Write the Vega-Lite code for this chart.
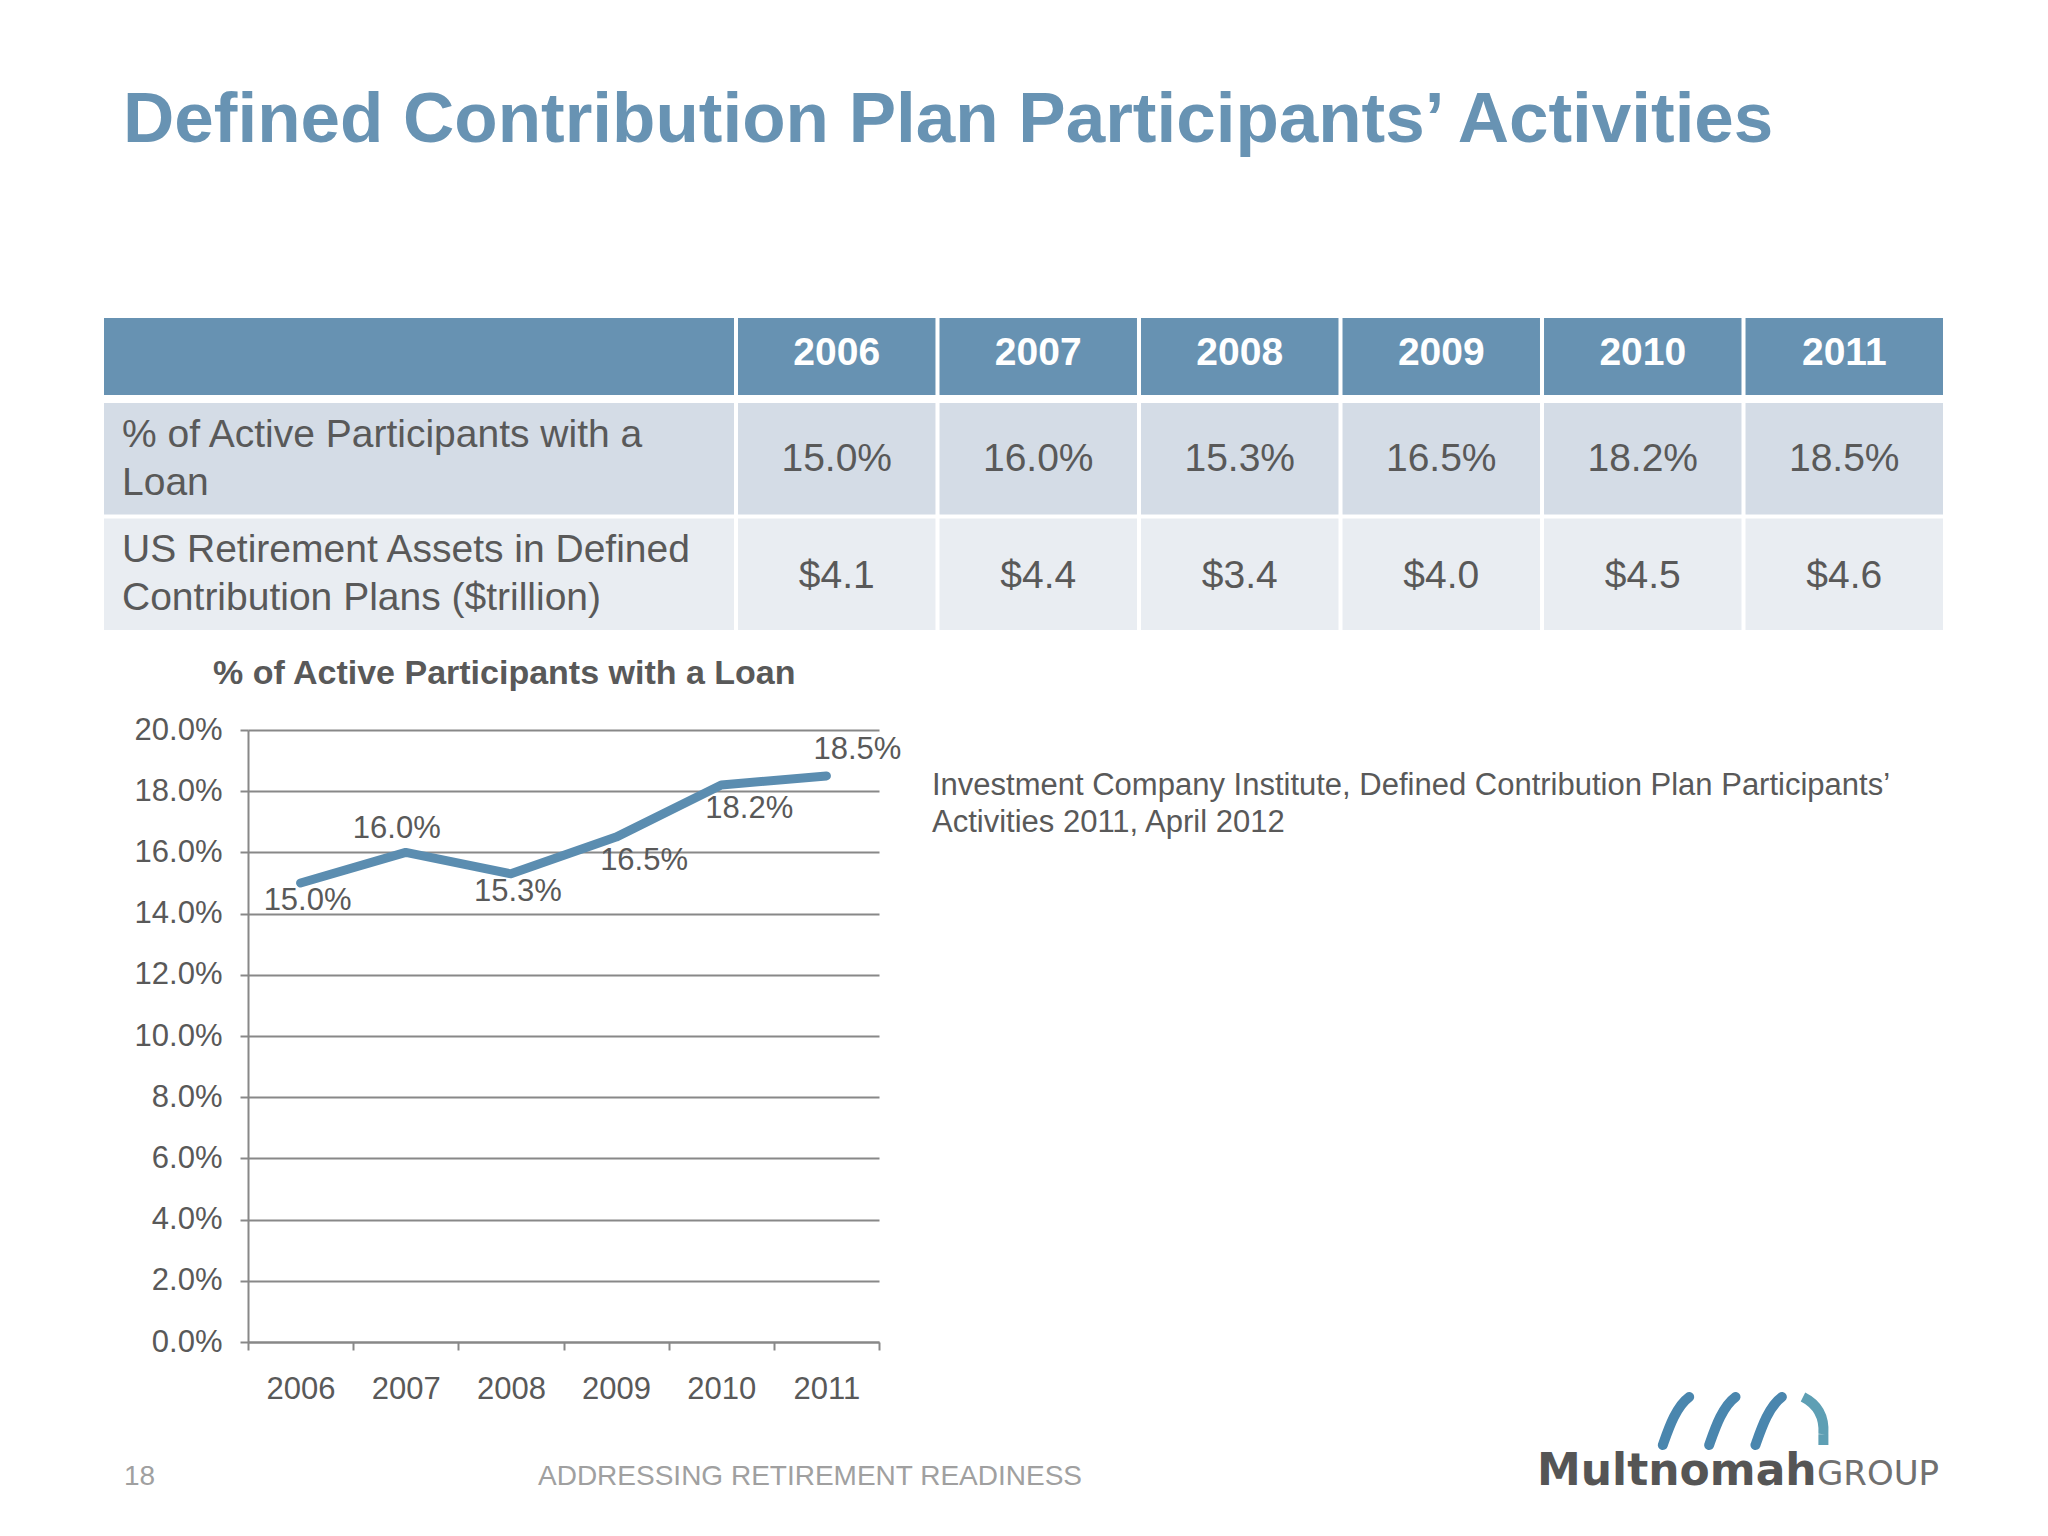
{
  "$schema": "https://vega.github.io/schema/vega-lite/v6.json",
  "background": "white",
  "padding": {"left": 104, "top": 85, "right": 104, "bottom": 41},
  "config": {"view": {"stroke": null}, "font": "Liberation Sans", "text": {"font": "Liberation Sans"}},
  "title": {
    "text": "Defined Contribution Plan Participants’ Activities",
    "anchor": "start", "frame": "group", "fontSize": 71, "fontWeight": "bold",
    "font": "Liberation Sans", "color": "#6893B3", "baseline": "alphabetic", "offset": 105, "dx": 19
  },
  "datasets": {
    "table": [
      {"year": 2006, "metric": "loan", "value": 0.150},
      {"year": 2007, "metric": "loan", "value": 0.160},
      {"year": 2008, "metric": "loan", "value": 0.153},
      {"year": 2009, "metric": "loan", "value": 0.165},
      {"year": 2010, "metric": "loan", "value": 0.182},
      {"year": 2011, "metric": "loan", "value": 0.185},
      {"year": 2006, "metric": "assets", "value": 4.1},
      {"year": 2007, "metric": "assets", "value": 4.4},
      {"year": 2008, "metric": "assets", "value": 3.4},
      {"year": 2009, "metric": "assets", "value": 4.0},
      {"year": 2010, "metric": "assets", "value": 4.5},
      {"year": 2011, "metric": "assets", "value": 4.6}
    ],
    "labels": [
      {"metric": "loan", "label": ["% of Active Participants with a", "Loan"]},
      {"metric": "assets", "label": ["US Retirement Assets in Defined", "Contribution Plans ($trillion)"]}
    ],
    "footer": [
      {"part": "page", "text": "18"},
      {"part": "tagline", "text": "ADDRESSING RETIREMENT READINESS"},
      {"part": "brand", "text": "Multnomah"},
      {"part": "group", "text": "GROUP"},
      {"part": "wave", "n": 1},
      {"part": "wave", "n": 2},
      {"part": "wave", "n": 3},
      {"part": "wave", "n": 4}
    ]
  },
  "columns": 1,
  "align": "none",
  "spacing": 26,
  "concat": [
    {
      "columns": 1,
      "align": "none",
      "spacing": 8,
      "concat": [
        {
          "spacing": 4,
          "hconcat": [
            {
              "width": 630, "height": 77,
              "data": {"values": [{"cell": "corner"}]},
              "mark": {"type": "rect", "color": "#6792B2"},
              "encoding": {}
            },
            {
              "width": 1205, "height": 77,
              "data": {"name": "table"},
              "transform": [{"filter": "datum.metric == 'loan'"}],
              "encoding": {
                "x": {"field": "year", "type": "ordinal", "axis": null, "scale": {"type": "band", "paddingInner": 0.02, "paddingOuter": 0}}
              },
              "layer": [
                {"mark": {"type": "rect", "color": "#6792B2"}},
                {"mark": {"type": "text", "color": "white", "fontSize": 39, "fontWeight": "bold", "baseline": "middle", "dy": -4},
                 "encoding": {"text": {"field": "year", "type": "ordinal"}}}
              ]
            }
          ]
        },
        {
          "spacing": 4,
          "hconcat": [
            {
              "width": 630, "height": 227,
              "data": {"name": "labels"},
              "encoding": {
                "y": {"field": "metric", "type": "nominal", "sort": ["loan", "assets"], "axis": null, "scale": {"type": "band", "paddingInner": 0.035, "paddingOuter": 0}}
              },
              "layer": [
                {"mark": "rect",
                 "encoding": {"color": {"field": "metric", "type": "nominal", "scale": {"domain": ["loan", "assets"], "range": ["#D4DCE6", "#E9EDF2"]}, "legend": null}}},
                {"mark": {"type": "text", "align": "left", "baseline": "middle", "dx": 18, "dy": -24, "fontSize": 39, "lineHeight": 48, "color": "#595959"},
                 "encoding": {"text": {"field": "label", "type": "nominal"}, "x": {"value": 0}}}
              ]
            },
            {
              "width": 1205, "height": 227,
              "data": {"name": "table"},
              "encoding": {
                "x": {"field": "year", "type": "ordinal", "axis": null, "scale": {"type": "band", "paddingInner": 0.02, "paddingOuter": 0}},
                "y": {"field": "metric", "type": "nominal", "sort": ["loan", "assets"], "axis": null, "scale": {"type": "band", "paddingInner": 0.035, "paddingOuter": 0}}
              },
              "layer": [
                {"mark": "rect",
                 "encoding": {"color": {"field": "metric", "type": "nominal", "scale": {"domain": ["loan", "assets"], "range": ["#D4DCE6", "#E9EDF2"]}, "legend": null}}},
                {"transform": [{"filter": "datum.metric == 'loan'"}],
                 "mark": {"type": "text", "baseline": "middle", "fontSize": 39, "color": "#595959"},
                 "encoding": {"text": {"field": "value", "type": "quantitative", "format": ".1%"}}},
                {"transform": [{"filter": "datum.metric == 'assets'"}],
                 "mark": {"type": "text", "baseline": "middle", "fontSize": 39, "color": "#595959", "dy": 2},
                 "encoding": {"text": {"field": "value", "type": "quantitative", "format": "$.1f"}}}
              ]
            }
          ]
        }
      ]
    },
    {
      "columns": 1,
      "align": "none",
      "spacing": -27,
      "concat": [
        {
          "spacing": 0,
          "hconcat": [
            {
              "width": 24, "height": 1,
              "data": {"values": []},
              "mark": "point",
              "encoding": {}
            },
            {
              "width": 631, "height": 612,
              "title": {
                "text": "% of Active Participants with a Loan", "fontSize": 34, "fontWeight": "bold",
                "color": "#595959", "anchor": "start", "frame": "group", "dx": -35, "baseline": "alphabetic", "offset": -3.5
              },
              "data": {"name": "table"},
              "transform": [{"filter": "datum.metric == 'loan'"}],
              "encoding": {
                "x": {
                  "field": "year", "type": "quantitative",
                  "scale": {"domain": [2005.5, 2011.5], "nice": false, "zero": false},
                  "axis": {
                    "title": null, "grid": false,
                    "values": [2005.5, 2006.5, 2007.5, 2008.5, 2009.5, 2010.5, 2011.5],
                    "labelExpr": "datum.value < 2011 ? format(datum.value + 0.5, 'd') : ''",
                    "labelOffset": 52.6, "labelFlush": false, "labelOverlap": false, "labelBound": false,
                    "labelFontSize": 31, "labelColor": "#595959", "labelPadding": 24,
                    "tickSize": 8, "tickColor": "#888888", "tickWidth": 2,
                    "domainColor": "#888888", "domainWidth": 2
                  }
                },
                "y": {
                  "field": "value", "type": "quantitative",
                  "scale": {"domain": [0, 0.2], "nice": false},
                  "axis": {
                    "title": null,
                    "values": [0, 0.02, 0.04, 0.06, 0.08, 0.1, 0.12, 0.14, 0.16, 0.18, 0.2],
                    "format": ".1%", "labelFontSize": 31, "labelColor": "#595959", "labelPadding": 18,
                    "tickSize": 8, "tickColor": "#888888", "tickWidth": 2,
                    "domainColor": "#888888", "domainWidth": 2,
                    "gridColor": "#888888", "gridWidth": 2, "minExtent": 120
                  }
                }
              },
              "layer": [
                {"mark": {"type": "line", "color": "#5B8DB0", "strokeWidth": 9, "strokeCap": "round", "strokeJoin": "round"}},
                {"transform": [{"filter": "datum.year == 2006 || datum.year == 2008"}],
                 "mark": {"type": "text", "dx": 7, "dy": 18, "fontSize": 31, "color": "#595959", "baseline": "middle"},
                 "encoding": {"text": {"field": "value", "type": "quantitative", "format": ".1%"}}},
                {"transform": [{"filter": "datum.year == 2007"}],
                 "mark": {"type": "text", "dx": -9, "dy": -23, "fontSize": 31, "color": "#595959", "baseline": "middle"},
                 "encoding": {"text": {"field": "value", "type": "quantitative", "format": ".1%"}}},
                {"transform": [{"filter": "datum.year == 2009 || datum.year == 2010"}],
                 "mark": {"type": "text", "dx": 28, "dy": 24, "fontSize": 31, "color": "#595959", "baseline": "middle"},
                 "encoding": {"text": {"field": "value", "type": "quantitative", "format": ".1%"}}},
                {"transform": [{"filter": "datum.year == 2011"}],
                 "mark": {"type": "text", "dx": 31, "dy": -26, "fontSize": 31, "color": "#595959", "baseline": "middle"},
                 "encoding": {"text": {"field": "value", "type": "quantitative", "format": ".1%"}}}
              ]
            },
            {
              "width": 1000, "height": 200,
              "data": {"values": [{"note": ["Investment Company Institute, Defined Contribution Plan Participants’", "Activities 2011, April 2012"]}]},
              "mark": {"type": "text", "align": "left", "baseline": "alphabetic", "fontSize": 31, "lineHeight": 37, "color": "#595959"},
              "encoding": {"text": {"field": "note", "type": "nominal"}, "x": {"value": 0}, "y": {"value": 65}}
            }
          ]
        },
        {
          "width": 1840, "height": 100,
          "data": {"name": "footer"},
          "layer": [
            {"transform": [{"filter": "datum.part == 'page'"}],
             "mark": {"type": "text", "align": "left", "baseline": "alphabetic", "fontSize": 28, "color": "#A0A0A0"},
             "encoding": {"text": {"field": "text", "type": "nominal"}, "x": {"value": 20}, "y": {"value": 88}}},
            {"transform": [{"filter": "datum.part == 'tagline'"}],
             "mark": {"type": "text", "align": "center", "baseline": "alphabetic", "fontSize": 28, "color": "#A0A0A0"},
             "encoding": {"text": {"field": "text", "type": "nominal"}, "x": {"value": 706}, "y": {"value": 88}}},
            {"transform": [{"filter": "datum.part == 'brand'"}],
             "mark": {"type": "text", "align": "left", "baseline": "alphabetic", "fontSize": 44, "fontWeight": "bold", "font": "DejaVu Sans", "color": "#555555"},
             "encoding": {"text": {"field": "text", "type": "nominal"}, "x": {"value": 1433}, "y": {"value": 88}}},
            {"transform": [{"filter": "datum.part == 'group'"}],
             "mark": {"type": "text", "align": "left", "baseline": "alphabetic", "fontSize": 34, "font": "DejaVu Sans", "color": "#707070"},
             "encoding": {"text": {"field": "text", "type": "nominal"}, "x": {"value": 1713}, "y": {"value": 88}}},
            {"transform": [{"filter": "datum.part == 'wave' && datum.n < 4"}],
             "mark": {"type": "point", "filled": false, "shape": "M -0.55 1 C -0.3 0.3 0.0 -0.6 0.55 -1", "size": 2304, "strokeWidth": 10, "strokeCap": "round", "color": "#4A86AE", "opacity": 1},
             "encoding": {"x": {"field": "n", "type": "quantitative", "scale": {"domain": [1, 4], "range": [1572, 1711]}, "axis": null}, "y": {"value": 24}}},
            {"transform": [{"filter": "datum.part == 'wave' && datum.n == 4"}],
             "mark": {"type": "point", "filled": false, "shape": "M -0.5 -1 C 0.1 -0.7 0.4 -0.2 0.35 0.55 M 0.35 0.55 L 0.35 1", "size": 2304, "strokeWidth": 10, "strokeCap": "butt", "color": "#5E9FB4", "opacity": 1},
             "encoding": {"x": {"field": "n", "type": "quantitative", "scale": {"domain": [1, 4], "range": [1572, 1711]}, "axis": null}, "y": {"value": 24}}}
          ]
        }
      ]
    }
  ]
}
